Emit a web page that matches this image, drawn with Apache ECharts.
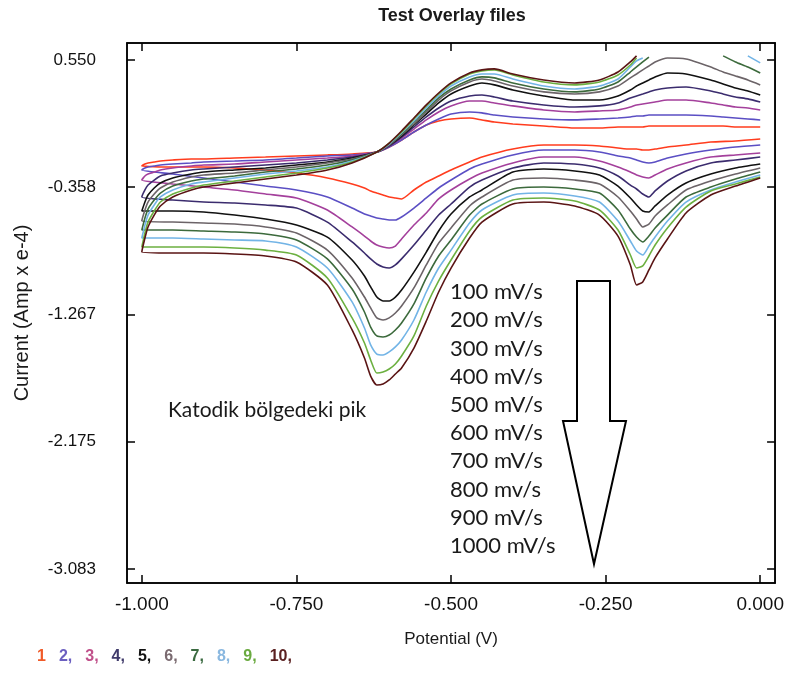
<!DOCTYPE html>
<html>
<head>
<meta charset="utf-8">
<script src="https://cdn.jsdelivr.net/npm/echarts@6/dist/echarts.min.js"></script>
<style>
  html, body { margin: 0; padding: 0; background: #ffffff; }
  #chart { width: 787px; height: 675px; }
</style>
</head>
<body>
<div id="chart"></div>
<script>
// Potential grids (V): cathodic sweep runs 0 -> -1, anodic sweep runs -1 -> 0
const potentialCathodic = [0, -0.04, -0.08, -0.12, -0.15, -0.17, -0.18, -0.19, -0.20, -0.21, -0.23, -0.26, -0.30, -0.35, -0.40, -0.45, -0.47, -0.50, -0.52, -0.54, -0.56, -0.58, -0.59, -0.60, -0.61, -0.62, -0.63, -0.64, -0.66, -0.70, -0.75, -0.80, -0.85, -0.90, -0.95, -1.00];
const potentialAnodic = [-1.00, -0.995, -0.99, -0.98, -0.97, -0.95, -0.92, -0.90, -0.85, -0.80, -0.75, -0.70, -0.66, -0.62, -0.60, -0.58, -0.56, -0.54, -0.52, -0.50, -0.47, -0.45, -0.43, -0.40, -0.35, -0.30, -0.26, -0.23, -0.21, -0.20, -0.19, -0.18, -0.17, -0.15, -0.12, -0.08, -0.06, -0.04, -0.02, 0.00];

// Current (Amp x e-4), cathodic branch of each file
const cathodic1 = [-0.014, -0.028, -0.036, -0.057, -0.071, -0.086, -0.093, -0.093, -0.086, -0.086, -0.078, -0.064, -0.057, -0.057, -0.086, -0.143, -0.178, -0.235, -0.278, -0.321, -0.378, -0.442, -0.435, -0.428, -0.414, -0.400, -0.385, -0.364, -0.335, -0.292, -0.257, -0.235, -0.221, -0.214, -0.214, -0.207];
const cathodic2 = [-0.057, -0.071, -0.093, -0.121, -0.150, -0.178, -0.185, -0.178, -0.164, -0.150, -0.135, -0.107, -0.093, -0.093, -0.128, -0.193, -0.228, -0.307, -0.364, -0.435, -0.507, -0.571, -0.592, -0.592, -0.585, -0.578, -0.564, -0.550, -0.507, -0.428, -0.378, -0.350, -0.321, -0.292, -0.264, -0.235];
const cathodic3 = [-0.114, -0.128, -0.143, -0.185, -0.228, -0.271, -0.292, -0.285, -0.271, -0.250, -0.214, -0.171, -0.143, -0.143, -0.185, -0.257, -0.300, -0.378, -0.442, -0.542, -0.628, -0.728, -0.778, -0.792, -0.785, -0.771, -0.742, -0.707, -0.642, -0.521, -0.435, -0.407, -0.378, -0.357, -0.335, -0.307];
const cathodic4 = [-0.143, -0.164, -0.185, -0.242, -0.314, -0.385, -0.428, -0.407, -0.371, -0.343, -0.278, -0.221, -0.193, -0.185, -0.221, -0.307, -0.357, -0.478, -0.557, -0.664, -0.771, -0.870, -0.913, -0.935, -0.927, -0.906, -0.870, -0.828, -0.749, -0.607, -0.507, -0.485, -0.471, -0.464, -0.450, -0.428];
const cathodic5 = [-0.193, -0.221, -0.264, -0.328, -0.414, -0.492, -0.535, -0.528, -0.485, -0.435, -0.350, -0.271, -0.242, -0.228, -0.250, -0.378, -0.428, -0.550, -0.671, -0.821, -0.964, -1.092, -1.142, -1.170, -1.170, -1.142, -1.070, -0.992, -0.878, -0.714, -0.628, -0.585, -0.557, -0.535, -0.528, -0.528];
const cathodic6 = [-0.221, -0.264, -0.314, -0.378, -0.485, -0.564, -0.621, -0.642, -0.585, -0.528, -0.428, -0.335, -0.307, -0.292, -0.307, -0.428, -0.492, -0.649, -0.757, -0.913, -1.077, -1.206, -1.256, -1.291, -1.306, -1.291, -1.220, -1.142, -1.006, -0.807, -0.685, -0.642, -0.621, -0.614, -0.607, -0.600];
const cathodic7 = [-0.250, -0.300, -0.357, -0.428, -0.557, -0.649, -0.707, -0.749, -0.714, -0.657, -0.521, -0.400, -0.371, -0.357, -0.371, -0.478, -0.557, -0.735, -0.849, -1.006, -1.191, -1.327, -1.377, -1.413, -1.427, -1.420, -1.356, -1.249, -1.085, -0.870, -0.735, -0.692, -0.678, -0.671, -0.664, -0.664];
const cathodic8 = [-0.271, -0.321, -0.378, -0.464, -0.600, -0.714, -0.778, -0.842, -0.814, -0.742, -0.600, -0.464, -0.421, -0.400, -0.414, -0.521, -0.614, -0.807, -0.935, -1.106, -1.306, -1.449, -1.498, -1.534, -1.556, -1.549, -1.484, -1.363, -1.177, -0.935, -0.785, -0.742, -0.735, -0.728, -0.721, -0.721];
const cathodic9 = [-0.285, -0.335, -0.385, -0.500, -0.649, -0.771, -0.849, -0.920, -0.935, -0.842, -0.664, -0.521, -0.457, -0.435, -0.450, -0.571, -0.671, -0.878, -1.027, -1.206, -1.420, -1.563, -1.620, -1.656, -1.677, -1.684, -1.591, -1.470, -1.291, -1.006, -0.842, -0.807, -0.792, -0.785, -0.785, -0.785];
const cathodic10 = [-0.292, -0.350, -0.414, -0.542, -0.728, -0.863, -0.949, -1.034, -1.056, -0.913, -0.707, -0.557, -0.492, -0.464, -0.478, -0.607, -0.721, -0.935, -1.106, -1.313, -1.506, -1.648, -1.691, -1.734, -1.763, -1.770, -1.706, -1.577, -1.377, -1.056, -0.892, -0.849, -0.835, -0.828, -0.828, -0.821];

// Current (Amp x e-4), anodic branch of each file (null = off the top of the plot)
const anodic1 = [-0.207, -0.193, -0.185, -0.178, -0.171, -0.164, -0.157, -0.157, -0.150, -0.143, -0.135, -0.128, -0.121, -0.107, -0.071, -0.021, 0.036, 0.086, 0.114, 0.129, 0.136, 0.122, 0.107, 0.093, 0.079, 0.064, 0.064, 0.072, 0.072, 0.072, 0.072, 0.079, 0.079, 0.079, 0.079, 0.079, 0.079, 0.072, 0.072, 0.072];
const anodic2 = [-0.235, -0.221, -0.214, -0.207, -0.200, -0.193, -0.185, -0.178, -0.171, -0.164, -0.150, -0.135, -0.128, -0.107, -0.071, -0.021, 0.036, 0.086, 0.129, 0.164, 0.179, 0.172, 0.157, 0.143, 0.129, 0.122, 0.129, 0.136, 0.143, 0.150, 0.150, 0.157, 0.157, 0.157, 0.157, 0.150, 0.143, 0.136, 0.129, 0.122];
const anodic3 = [-0.307, -0.278, -0.264, -0.250, -0.235, -0.221, -0.207, -0.200, -0.193, -0.178, -0.164, -0.150, -0.135, -0.107, -0.064, -0.007, 0.057, 0.122, 0.179, 0.222, 0.257, 0.257, 0.243, 0.222, 0.193, 0.179, 0.186, 0.193, 0.214, 0.229, 0.236, 0.243, 0.250, 0.264, 0.264, 0.243, 0.229, 0.214, 0.207, 0.193];
const anodic4 = [-0.428, -0.378, -0.343, -0.307, -0.278, -0.257, -0.235, -0.228, -0.214, -0.200, -0.185, -0.164, -0.143, -0.107, -0.064, 0.000, 0.072, 0.143, 0.207, 0.257, 0.293, 0.300, 0.286, 0.257, 0.229, 0.214, 0.222, 0.243, 0.279, 0.293, 0.307, 0.322, 0.336, 0.350, 0.357, 0.329, 0.307, 0.286, 0.272, 0.250];
const anodic5 = [-0.528, -0.464, -0.414, -0.364, -0.328, -0.292, -0.264, -0.250, -0.235, -0.221, -0.200, -0.178, -0.150, -0.107, -0.057, 0.007, 0.086, 0.164, 0.243, 0.307, 0.364, 0.386, 0.372, 0.336, 0.293, 0.264, 0.264, 0.293, 0.336, 0.364, 0.386, 0.407, 0.429, 0.457, 0.450, 0.407, 0.379, 0.350, 0.329, 0.300];
const anodic6 = [-0.600, -0.521, -0.464, -0.407, -0.364, -0.321, -0.285, -0.271, -0.257, -0.235, -0.214, -0.185, -0.157, -0.107, -0.057, 0.015, 0.093, 0.179, 0.264, 0.329, 0.393, 0.414, 0.400, 0.364, 0.322, 0.307, 0.322, 0.364, 0.422, 0.450, 0.479, 0.507, 0.536, 0.564, 0.557, 0.500, 0.464, 0.436, 0.407, 0.372];
const anodic7 = [-0.664, -0.578, -0.514, -0.450, -0.400, -0.350, -0.314, -0.300, -0.278, -0.250, -0.228, -0.200, -0.164, -0.107, -0.050, 0.022, 0.107, 0.193, 0.279, 0.343, 0.407, 0.429, 0.422, 0.386, 0.343, 0.322, 0.343, 0.393, 0.464, 0.500, 0.536, 0.571, null, null, null, null, 0.579, 0.536, 0.500, 0.457];
const anodic8 = [-0.721, -0.628, -0.557, -0.485, -0.428, -0.378, -0.335, -0.321, -0.292, -0.264, -0.242, -0.214, -0.171, -0.107, -0.050, 0.029, 0.114, 0.207, 0.293, 0.364, 0.429, 0.450, 0.450, 0.414, 0.364, 0.343, 0.364, 0.414, 0.500, 0.543, 0.564, null, null, null, null, null, null, null, 0.579, 0.529];
const anodic9 = [-0.785, -0.685, -0.607, -0.528, -0.464, -0.407, -0.364, -0.343, -0.314, -0.285, -0.257, -0.221, -0.178, -0.107, -0.043, 0.036, 0.129, 0.222, 0.307, 0.379, 0.450, 0.472, 0.479, 0.443, 0.393, 0.372, 0.393, 0.443, 0.514, 0.564, null, null, null, null, null, null, null, null, null, null];
const anodic10 = [-0.821, -0.721, -0.642, -0.557, -0.492, -0.428, -0.378, -0.357, -0.328, -0.300, -0.271, -0.235, -0.185, -0.107, -0.043, 0.043, 0.136, 0.229, 0.314, 0.386, 0.457, 0.479, 0.486, 0.450, 0.407, 0.386, 0.407, 0.464, 0.536, 0.579, null, null, null, null, null, null, null, null, null, null];

const fileLabels = ['1', '2', '3', '4', '5', '6', '7', '8', '9', '10'];
const scanRateLabels = ['100 mV/s', '200 mV/s', '300 mV/s', '400 mV/s', '500 mV/s', '600 mV/s', '700 mV/s', '800 mv/s', '900 mV/s', '1000 mV/s'];
const potentialTicks = [-1.0, -0.75, -0.5, -0.25, 0.0];
const currentTicks = [0.550, -0.358, -1.267, -2.175, -3.083];

const cathodicSweeps = [cathodic1, cathodic2, cathodic3, cathodic4, cathodic5, cathodic6, cathodic7, cathodic8, cathodic9, cathodic10];
const anodicSweeps = [anodic1, anodic2, anodic3, anodic4, anodic5, anodic6, anodic7, anodic8, anodic9, anodic10];

const lineColors = ['#ff3c1e', '#5b4fc4', '#a4409c', '#3b2c6e', '#111111', '#6c6468', '#3c6a3c', '#72b4e6', '#6cb040', '#5a1414'];
const legendColors = ['#f05a28', '#6b5fc0', '#c0508a', '#3f3a6a', '#111111', '#7a6a70', '#3a6a40', '#8ab8e0', '#6aaa40', '#5a2020'];

const axisFont = 'Liberation Sans, Arial, sans-serif';
const noteFont = 'Lato, "Open Sans", sans-serif';

const chart = echarts.init(document.getElementById('chart'), null, { renderer: 'canvas' });

// one closed voltammogram per file: cathodic sweep followed by anodic sweep
const series = fileLabels.map((label, i) => {
  const pts = [];
  potentialCathodic.forEach((e, k) => pts.push([e, cathodicSweeps[i][k]]));
  potentialAnodic.forEach((e, k) => pts.push([e, anodicSweeps[i][k]]));
  return {
    name: label,
    type: 'line',
    data: pts,
    showSymbol: false,
    symbol: 'none',
    smooth: 0.2,
    connectNulls: false,
    lineStyle: { color: lineColors[i], width: 1.6 },
    itemStyle: { color: lineColors[i] },
    emphasis: { disabled: true }
  };
});

const fmt3 = v => Number(v).toFixed(3);
const frameLine = { show: true, onZero: false, lineStyle: { color: '#000', width: 1.5 } };

chart.setOption({
  animation: false,
  backgroundColor: '#ffffff',
  title: {
    text: 'Test Overlay files',
    left: 452,
    top: 7,
    padding: 0,
    textAlign: 'center',
    textStyle: { fontFamily: axisFont, fontSize: 18, fontWeight: 'bold', color: '#1a1a1a' }
  },
  legend: {
    left: 32,
    top: 649,
    padding: 0,
    icon: 'none',
    itemWidth: 0,
    itemHeight: 10,
    itemGap: 8,
    selectedMode: false,
    textStyle: { fontFamily: axisFont, fontSize: 16, fontWeight: 'bold' },
    formatter: name => (name === '1' ? '1' : name + ','),
    data: fileLabels.map((n, i) => ({ name: n, textStyle: { color: legendColors[i] } }))
  },
  grid: {
    left: 127, right: 10, top: 43, bottom: 92,
    show: true, borderColor: '#000', borderWidth: 1.5, backgroundColor: 'transparent'
  },
  xAxis: [{
    type: 'value',
    min: -1.024, max: 0.024,
    name: 'Potential (V)',
    nameLocation: 'middle',
    nameGap: 48,
    nameTextStyle: { fontFamily: axisFont, fontSize: 17, color: '#1a1a1a' },
    axisLine: frameLine,
    axisTick: { show: true, inside: true, length: 8, customValues: potentialTicks, lineStyle: { color: '#000', width: 1.5 } },
    axisLabel: { customValues: potentialTicks, formatter: fmt3, margin: 12, fontFamily: axisFont, fontSize: 19, color: '#111' },
    splitLine: { show: false }
  }, {
    type: 'value',
    position: 'top',
    min: -1.024, max: 0.024,
    axisLine: frameLine,
    axisTick: { show: true, inside: true, length: 8, customValues: potentialTicks, lineStyle: { color: '#000', width: 1.5 } },
    axisLabel: { show: false },
    splitLine: { show: false }
  }],
  yAxis: [{
    type: 'value',
    min: -3.183, max: 0.671,
    name: 'Current (Amp x e-4)',
    nameLocation: 'middle',
    nameRotate: 90,
    nameGap: 95,
    nameTextStyle: { fontFamily: axisFont, fontSize: 20, color: '#1a1a1a' },
    axisLine: frameLine,
    axisTick: { show: true, inside: true, length: 8, customValues: currentTicks, lineStyle: { color: '#000', width: 1.5 } },
    axisLabel: { customValues: currentTicks, formatter: fmt3, margin: 31, fontFamily: axisFont, fontSize: 17, color: '#111' },
    splitLine: { show: false }
  }, {
    type: 'value',
    position: 'right',
    min: -3.183, max: 0.671,
    axisLine: frameLine,
    axisTick: { show: true, inside: true, length: 8, customValues: currentTicks, lineStyle: { color: '#000', width: 1.5 } },
    axisLabel: { show: false },
    splitLine: { show: false }
  }],
  series: series,
  graphic: [
    {
      type: 'text',
      x: 168, y: 410,
      style: { text: 'Katodik bölgedeki pik', font: '21px ' + noteFont, fill: '#1a1a1a', verticalAlign: 'middle' },
      z: 10
    },
    {
      type: 'text',
      x: 450, y: 278,
      style: { text: scanRateLabels.join('\n'), font: '22px ' + noteFont, fill: '#1a1a1a', lineHeight: 28.2, verticalAlign: 'top' },
      z: 10
    },
    {
      type: 'polygon',
      shape: { points: [[577, 281], [610, 281], [610, 421], [626, 421], [594, 564], [563, 421], [577, 421]] },
      style: { fill: '#ffffff', stroke: '#000000', lineWidth: 2 },
      z: 10
    }
  ]
});
</script>
</body>
</html>
